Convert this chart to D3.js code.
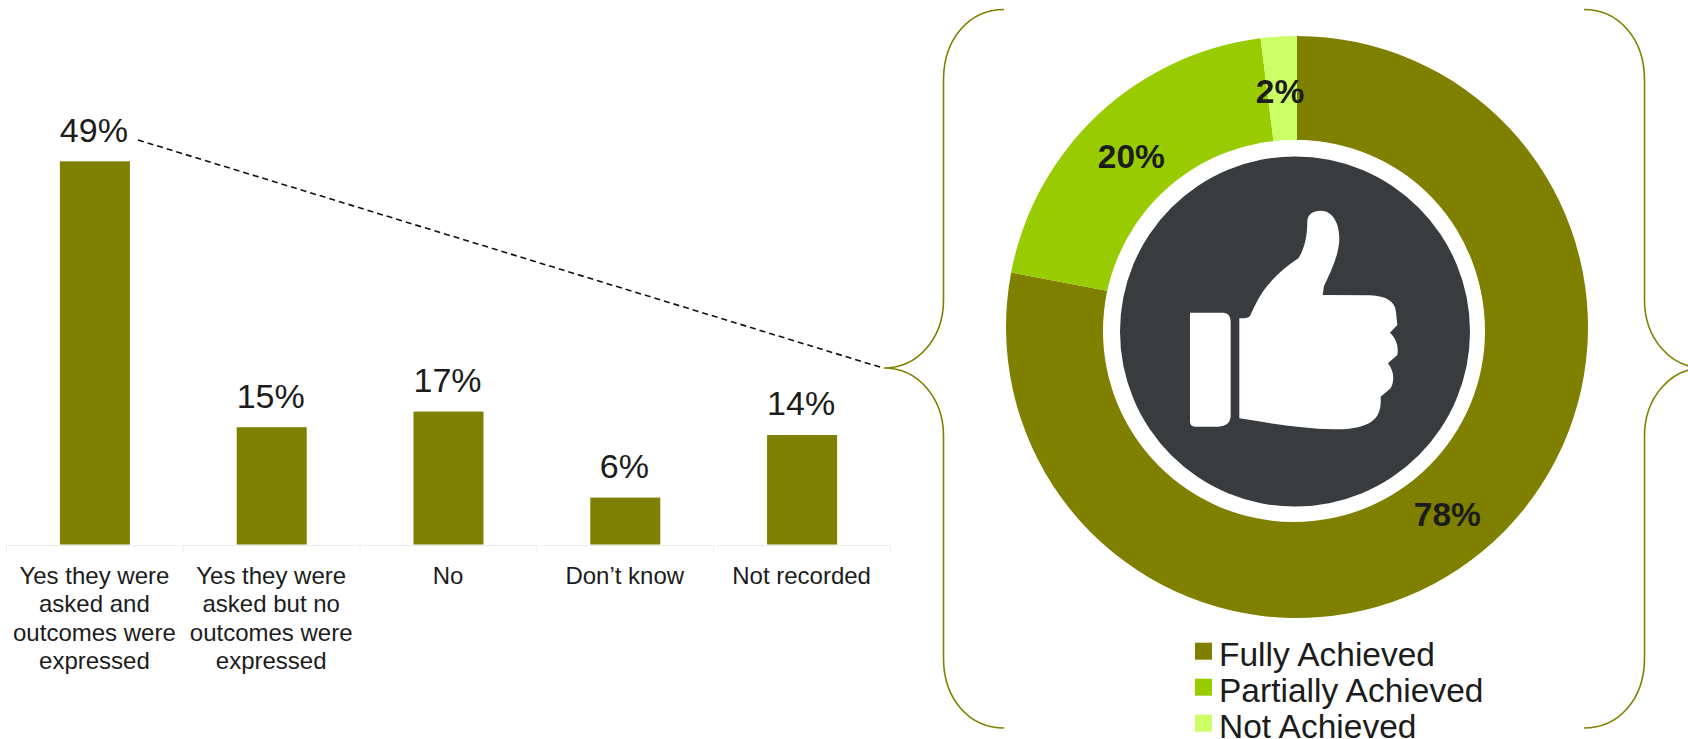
<!DOCTYPE html>
<html>
<head>
<meta charset="utf-8">
<script src="https://cdn.jsdelivr.net/npm/d3@7/dist/d3.min.js"></script>
<style>
  html, body { margin: 0; padding: 0; background: #fff; overflow: hidden; }
  svg { display: block; }
  text { font-family: "Liberation Sans", Arial, sans-serif; fill: #1c1c1c; }
</style>
</head>
<body>
<svg id="chart" width="1688" height="739"></svg>
<script>
// Bar chart data
const barCategories = [
  ["Yes they were", "asked and", "outcomes were", "expressed"],
  ["Yes they were", "asked but no", "outcomes were", "expressed"],
  ["No"],
  ["Don\u2019t know"],
  ["Not recorded"]
];
const barValues = [49, 15, 17, 6, 14];

// Doughnut data, clockwise from twelve o'clock
const ringLabels = ["Fully Achieved", "Partially Achieved", "Not Achieved"];
const ringValues = [78, 20, 2];
const ringColors = ["#808000", "#99CC00", "#CCFF66"];

const svg = d3.select("#chart");
const olive = "#808000";

// ---- Bars ----
const baseY = 544.5;
const x = d3.scaleBand().domain(d3.range(barValues.length)).range([6.5, 890.5]).paddingInner(0.604).paddingOuter(0.302);
const y = d3.scaleLinear().domain([0, 49]).range([baseY, 161.3]);

const axis = svg.append("g").attr("stroke", "#eeeeee").attr("stroke-width", 1);
axis.append("line").attr("x1", 6.5).attr("x2", 890.5).attr("y1", baseY + 1).attr("y2", baseY + 1);
axis.selectAll("line.tick").data(d3.range(barValues.length + 1)).join("line")
  .attr("class", "tick")
  .attr("x1", i => 6.5 + i * x.step()).attr("x2", i => 6.5 + i * x.step())
  .attr("y1", baseY + 1).attr("y2", baseY + 8);

svg.selectAll("rect.bar").data(barValues).join("rect")
  .attr("class", "bar")
  .attr("x", (d, i) => x(i)).attr("width", x.bandwidth())
  .attr("y", d => y(d)).attr("height", d => baseY - y(d))
  .attr("fill", olive);

svg.selectAll("text.value").data(barValues).join("text")
  .attr("class", "value")
  .attr("x", (d, i) => x(i) + x.bandwidth() / 2 - 1)
  .attr("y", d => y(d) - 19.6)
  .attr("text-anchor", "middle")
  .attr("font-size", 34)
  .text(d => d + "%");

const cats = svg.selectAll("text.cat").data(barCategories).join("text")
  .attr("class", "cat")
  .attr("text-anchor", "middle")
  .attr("font-size", 24);
cats.selectAll("tspan").data((d, i) => d.map(line => ({ line, i }))).join("tspan")
  .attr("x", d => x(d.i) + x.bandwidth() / 2 - 0.5)
  .attr("y", (d, j) => 584 + j * 28.4)
  .text(d => d.line);

// Dashed leader from the first bar to the brace
svg.append("line")
  .attr("x1", 138).attr("y1", 140).attr("x2", 883).attr("y2", 368)
  .attr("stroke", "#111").attr("stroke-width", 1.6).attr("stroke-dasharray", "6 4");

// ---- Braces ----
const brace = svg.append("g").attr("fill", "none").attr("stroke", olive).attr("stroke-width", 1.6);
brace.append("path").attr("d",
  "M1004,9.5 C970,9.5 943.5,38 943.5,80 L943.5,300 C943.5,338 918,368 884,368 " +
  "C918,368 943.5,398 943.5,436 L943.5,658 C943.5,700 970,728 1004,728");
brace.append("path").attr("d",
  "M1584,9.5 C1618,9.5 1644.5,38 1644.5,80 L1644.5,300 C1644.5,338 1670,368 1704,368 " +
  "C1670,368 1644.5,398 1644.5,436 L1644.5,658 C1644.5,700 1618,728 1584,728");

// ---- Doughnut ----
const ringCentre = [1297, 327];
const pie = d3.pie().sort(null).value(d => d);
const arc = d3.arc().innerRadius(187).outerRadius(291);
const ring = svg.append("g").attr("transform", `translate(${ringCentre})`);
const slices = pie(ringValues);
ring.selectAll("path").data(slices).join("path")
  .attr("d", arc)
  .attr("fill", (d, i) => ringColors[i]);

// Badge in the hole of the ring
svg.append("circle").attr("cx", 1294).attr("cy", 331).attr("r", 191).attr("fill", "#fff");
svg.append("circle").attr("cx", 1295).attr("cy", 331.5).attr("r", 175).attr("fill", "#383C3F");

// Thumbs-up glyph, drawn on a 3x grid
const thumb = svg.append("g").attr("transform", "translate(1100,190) scale(0.3333)").attr("fill", "#fff");
thumb.append("path").attr("d",
  "M270,368 L370,368 Q392,370 392,395 L392,680 Q390,708 355,710 L285,710 Q270,708 270,695 Z");
thumb.append("path").attr("d",
  "M418,385 C432,385 444,385 450,378 C458,362 470,332 492,300 C520,262 560,228 595,205 " +
  "C612,180 622,140 622,95 C622,72 640,62 662,62 C695,62 718,95 718,145 " +
  "C718,195 692,245 672,288 L668,315 L810,316 C860,318 885,335 888,365 " +
  "L892,405 L870,428 C888,445 897,468 892,495 L864,520 C880,540 886,568 872,595 " +
  "L842,620 C844,650 840,680 810,698 C780,714 745,718 700,718 C610,716 510,700 418,685 Z");

// Percent labels sit on the ring's centroids
ring.selectAll("text").data(slices).join("text")
  .attr("transform", d => `translate(${arc.centroid(d)})`)
  .attr("dx", -2)
  .attr("dy", 15)
  .attr("text-anchor", "middle")
  .attr("font-size", 33.5)
  .attr("font-weight", "bold")
  .text(d => d.value + "%");

// ---- Legend ----
const legend = svg.selectAll("g.legend").data(ringLabels).join("g")
  .attr("class", "legend")
  .attr("transform", (d, i) => `translate(1195,${642.7 + i * 36})`);
legend.append("rect").attr("width", 17).attr("height", 17).attr("fill", (d, i) => ringColors[i]);
legend.append("text").attr("x", 24).attr("y", 23).attr("font-size", 33.5).text(d => d);
</script>
</body>
</html>
